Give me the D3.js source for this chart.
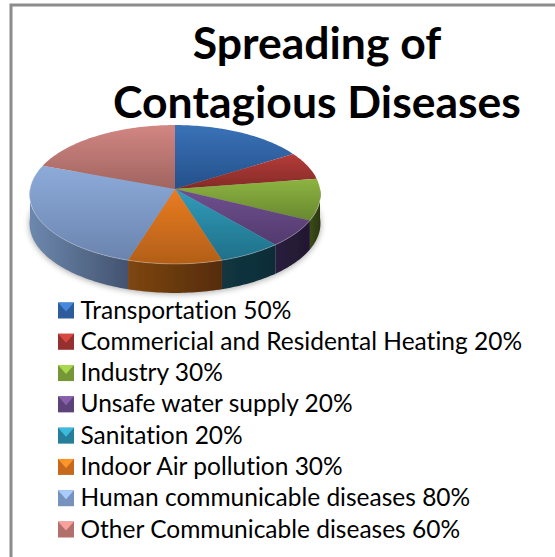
<!DOCTYPE html>
<html>
<head>
<meta charset="utf-8">
<script src="https://cdn.jsdelivr.net/npm/d3@7"></script>
<style>
  html, body { margin: 0; padding: 0; background: #fff; }
  svg { display: block; }
  text { font-family: Lato, "Open Sans", sans-serif; fill: #000; font-variant-ligatures: none; }
</style>
</head>
<body>
<div id="chart"></div>
<script>
// Values as printed in the legend; the slices are drawn proportional to them
const titleLines = ['Spreading of', 'Contagious Diseases'];
const categories = [
  'Transportation',
  'Commericial and Residental Heating',
  'Industry',
  'Unsafe water supply',
  'Sanitation',
  'Indoor Air pollution',
  'Human communicable diseases',
  'Other Communicable diseases'
];
const percents = [50, 20, 30, 20, 20, 30, 80, 60];
const topLight = ['#3a72b8', '#b53c38', '#8db441', '#70508f', '#329cba', '#ea7c22', '#8dabda', '#d28682'];
const topDark = ['#24508a', '#842a28', '#68882f', '#523a6e', '#1f7089', '#b25f18', '#6a84ae', '#a06460'];
const sideLight = ['#1c3a60', '#5e1e1c', '#3b4c17', '#2a1e3e', '#12363f', '#7e4612', '#6d88ae', '#7c4c4a'];
const sideDark = ['#142a46', '#3e1412', '#2a3710', '#21182f', '#0f2c38', '#552c0b', '#43536f', '#5c3836'];

const width = 555;
const height = 557;
const cx = 175;
const cy = 189;
const rx = 145;
const ry = 69;
const tilt = 0.079; // perspective: back of the disc is drawn smaller
const depth = 29;

const svg = d3.select('#chart').append('svg')
  .attr('width', width)
  .attr('height', height)
  .attr('viewBox', `0 0 ${width} ${height}`);

const defs = svg.append('defs');

defs.append('filter').attr('id', 'soft').attr('x', '-10%').attr('y', '-10%').attr('width', '120%').attr('height', '130%')
  .append('feGaussianBlur').attr('stdDeviation', 3);

defs.append('filter').attr('id', 'slight')
  .append('feGaussianBlur').attr('stdDeviation', 0.5);

categories.forEach((c, i) => {
  const top = defs.append('linearGradient').attr('id', `top${i}`)
    .attr('x1', 0).attr('y1', 0).attr('x2', 0).attr('y2', 1);
  top.append('stop').attr('offset', 0).attr('stop-color', topLight[i]);
  top.append('stop').attr('offset', 1).attr('stop-color', topDark[i]);

  const side = defs.append('linearGradient').attr('id', `side${i}`)
    .attr('x1', 0).attr('y1', 0).attr('x2', 1).attr('y2', 0);
  side.append('stop').attr('offset', 0).attr('stop-color', sideLight[i]);
  side.append('stop').attr('offset', 1).attr('stop-color', sideDark[i]);
});

// Page frame, only the top and left edges are visible in the picture
svg.append('path')
  .attr('d', d3.line()([[11, height], [11, 5], [width, 5]]))
  .attr('fill', 'none')
  .attr('stroke', '#8c8c8c')
  .attr('stroke-width', 3);

svg.append('g').selectAll('text')
  .data(titleLines)
  .enter()
  .append('text')
  .attr('x', 317)
  .attr('y', (d, i) => (i === 0 ? 59 : 118))
  .attr('text-anchor', 'middle')
  .attr('font-size', 44.5)
  .attr('font-weight', 700)
  .text((d) => d);

// Pie angles from d3, projected onto the tilted disc
const pie = d3.pie().sort(null).value((d) => d);
const slices = pie(percents);

function project(a, dy) {
  const w = 1 + tilt * Math.cos(a);
  return [cx + (rx * Math.sin(a)) / w, cy - (ry * Math.cos(a)) / w + (dy || 0)];
}

function rim(a0, a1, dy) {
  const pts = [];
  const n = Math.max(2, Math.ceil((a1 - a0) / 0.02));
  for (let k = 0; k <= n; k++) pts.push(project(a0 + ((a1 - a0) * k) / n, dy));
  return pts;
}

const line = d3.line();

// Soft shadow under the disc
svg.append('path')
  .attr('d', line(rim(0, 2 * Math.PI, depth + 1)) + 'Z')
  .attr('fill', '#000')
  .attr('opacity', 0.35)
  .attr('filter', 'url(#soft)');

const disc = svg.append('g').attr('filter', 'url(#slight)');

// Outer walls, only the part of each slice that faces the viewer
const front = slices
  .map((s, i) => ({ i, a0: Math.max(s.startAngle, Math.PI / 2), a1: Math.min(s.endAngle, (3 * Math.PI) / 2) }))
  .filter((d) => d.a1 > d.a0);

disc.append('g').selectAll('path')
  .data(front)
  .enter()
  .append('path')
  .attr('fill', (d) => `url(#side${d.i})`)
  .attr('d', (d) => line(rim(d.a0, d.a1, 0).concat(rim(d.a0, d.a1, depth).reverse())) + 'Z');

// Top faces
disc.append('g').selectAll('path')
  .data(slices)
  .enter()
  .append('path')
  .attr('fill', (d, i) => `url(#top${i})`)
  .attr('d', (d) => line([[cx, cy]].concat(rim(d.startAngle, d.endAngle, 0))) + 'Z');

// Bright edge along the front of the lid
disc.append('path')
  .attr('d', line(rim(Math.PI * 0.55, Math.PI * 1.62, 0)))
  .attr('fill', 'none')
  .attr('stroke', '#fff')
  .attr('stroke-opacity', 0.3)
  .attr('stroke-width', 1);

// Legend
const rowY = d3.scalePoint().domain(categories).range([310.5, 529.5]);

const row = svg.append('g').selectAll('g')
  .data(categories)
  .enter()
  .append('g')
  .attr('transform', (d) => `translate(58,${rowY(d)})`);

row.append('rect')
  .attr('x', 0).attr('y', -8).attr('width', 16).attr('height', 16)
  .attr('fill', (d, i) => d3.interpolateRgb(topDark[i], topLight[i])(0.35));

row.append('path')
  .attr('d', line([[0, -8], [16, -8], [8, 1]]) + 'Z')
  .attr('fill', (d, i) => d3.color(topLight[i]).brighter(0.5));

row.append('text')
  .attr('x', 22.5)
  .attr('y', 8)
  .attr('font-size', 24.5)
  .text((d, i) => `${d} ${percents[i]}%`);
</script>
</body>
</html>
